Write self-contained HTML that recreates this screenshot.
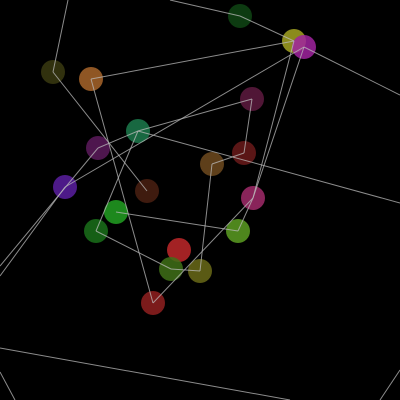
<!DOCTYPE html>
<html><head><meta charset="utf-8"><style>html,body{margin:0;padding:0;background:#000;}svg{display:block;}</style></head>
<body>
<svg id="g" width="400" height="400" xmlns="http://www.w3.org/2000/svg">
<rect width="400" height="400" fill="#000"/>
<g id="nodes"></g><g id="edges"></g>
</svg>
<script>
const nodeIds=["A","B","C","D","E","F","G","H","I","J","K","L","M","N","O","P","Q","R","S","T","X1","X2","X3","X4","X5","X6","X7","X8","X9","X10","X11","X12"];
const nodeX=[53,91,240,294,304,252,138,98,212,244,65,147,253,116,96,238,179,171,200,153,68,170,400,0,0,400,0,290,0,15,380,400];
const nodeY=[72,79,16,41,47,99,131,148,164,153,187,191,198,212,231,231,250,269,271,303,0,0,95,276,266,203,348,400,372,400,400,370];
const nodeColors=["#3a3a10","#a8652a","#0f4514","#a3a322","#a0239f","#5e1a40","#1c7a4c","#5c1a5c","#6e4a1e","#6a1a1a","#5a1ea0","#4a2012","#a12a6a","#22a022","#1a701a","#5c9e22","#c0282a","#407018","#6a6a18","#902020"];
const edgeFrom=["X1","A","X2","C","E","B","B","E","K","H","H","G","G","G","F","J","I","D","E","M","M","N","O","R","X7","X9","X11"];
const edgeTo=["A","L","C","D","X3","D","T","K","X4","X5","G","F","X6","O","J","I","S","M","M","P","T","P","R","S","X8","X10","X12"];
const svgNS="http://www.w3.org/2000/svg";
const eg=document.getElementById("edges"),ng=document.getElementById("nodes");
function pos(id){const i=nodeIds.indexOf(id);return [nodeX[i],nodeY[i]];}
for(let k=0;k<edgeFrom.length;k++){
 const a=pos(edgeFrom[k]),b=pos(edgeTo[k]);
 const l=document.createElementNS(svgNS,"line");
 l.setAttribute("x1",a[0]);l.setAttribute("y1",a[1]);l.setAttribute("x2",b[0]);l.setAttribute("y2",b[1]);
 l.setAttribute("stroke","#bbb");l.setAttribute("stroke-width","1");l.setAttribute("opacity","0.75");
 
 
 eg.appendChild(l);
}
for(let i=0;i<nodeColors.length;i++){
 const c=document.createElementNS(svgNS,"circle");
 c.setAttribute("cx",nodeX[i]);c.setAttribute("cy",nodeY[i]);c.setAttribute("r","12");
 c.setAttribute("fill",nodeColors[i]);c.setAttribute("fill-opacity","0.85");
 
 
 ng.appendChild(c);
}
</script>
</body></html>
